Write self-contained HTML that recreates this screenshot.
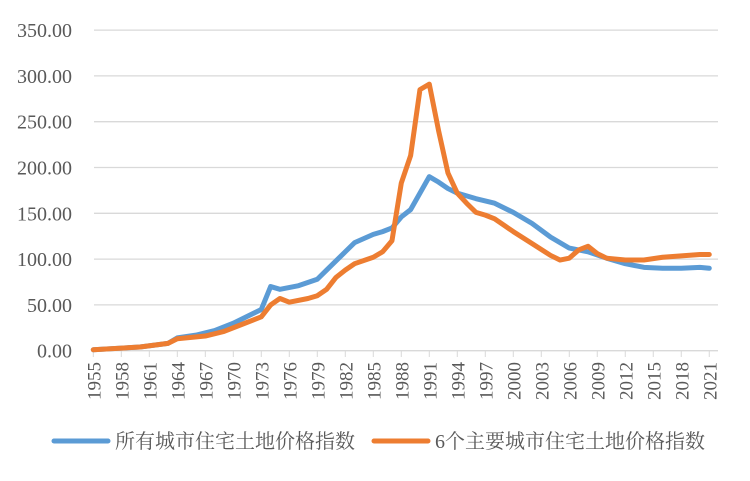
<!DOCTYPE html>
<html><head><meta charset="utf-8"><style>
html,body{margin:0;padding:0;background:#fff;}
svg text{font-family:"Liberation Serif","Noto Serif CJK SC",serif;fill:#595959;}
</style></head><body>
<svg id="c" width="750" height="476" xmlns="http://www.w3.org/2000/svg"></svg>
<script>
const s=document.getElementById('c');const NS='http://www.w3.org/2000/svg';
function el(t,a,txt){const e=document.createElementNS(NS,t);for(const k in a)e.setAttribute(k,a[k]);if(txt!=null)e.textContent=txt;s.appendChild(e);return e;}
const X=y=>93.3+9.333*(y-1955), Y=v=>350.7-0.916*v;
for(let v=0;v<=350;v+=50){el('line',{x1:94,x2:718,y1:Y(v),y2:Y(v),stroke:'#d9d9d9','stroke-width':1.3});
el('text',{x:72,y:Y(v)+7,'text-anchor':'end','font-size':20},v.toFixed(2));}
for(let y=1955;y<=2021;y+=3){el('line',{x1:X(y),x2:X(y),y1:351,y2:357,stroke:'#d9d9d9'});
el('text',{x:0,y:0,'text-anchor':'end','font-size':19,transform:`translate(${X(y)+7},362) rotate(-90)`},String(y));}
const blue=[[1955,1],[1960,4],[1963,8],[1964,14],[1966,17],[1968,22],[1970,30],[1973,45],[1974,70],[1975,67],[1977,71],[1979,78],[1980,88],[1982,108],[1983,118],[1985,127],[1986,130],[1987,134],[1988,146],[1989,154],[1991,190],[1992,184],[1993,177],[1994,172],[1996,166],[1998,161],[2000,151],[2002,139],[2004,124],[2006,112],[2008,108],[2010,101],[2012,95],[2014,91],[2016,90],[2018,90],[2020,91],[2021,90]];
const org=[[1955,1],[1960,4],[1963,8],[1964,13],[1967,16],[1969,21],[1971,29],[1973,37],[1974,50],[1975,57],[1976,53],[1978,57],[1979,60],[1980,67],[1981,80],[1982,88],[1983,95],[1985,102],[1986,108],[1987,120],[1988,183],[1989,213],[1990,285],[1991,291],[1992,240],[1993,194],[1994,172],[1995,161],[1996,151],[1997,148],[1998,144],[1999,137],[2000,130],[2002,117],[2004,104],[2005,99],[2006,101],[2007,110],[2008,114],[2009,106],[2010,101],[2012,99],[2014,99],[2016,102],[2018,103.5],[2020,105],[2021,105]];
function pl(d,c){el('polyline',{points:d.map(p=>X(p[0])+','+Y(p[1])).join(' '),fill:'none',stroke:c,'stroke-width':5,'stroke-linejoin':'round','stroke-linecap':'round'});}
pl(blue,'#5b9bd5');pl(org,'#ed7d31');
el('line',{x1:54,x2:108,y1:441,y2:441,stroke:'#5b9bd5','stroke-width':5,'stroke-linecap':'round'});
el('text',{x:115,y:448,'font-size':20},'所有城市住宅土地价格指数');
el('line',{x1:374,x2:428,y1:441,y2:441,stroke:'#ed7d31','stroke-width':5,'stroke-linecap':'round'});
el('text',{x:435,y:448,'font-size':20},'6个主要城市住宅土地价格指数');
</script>
</body></html>
